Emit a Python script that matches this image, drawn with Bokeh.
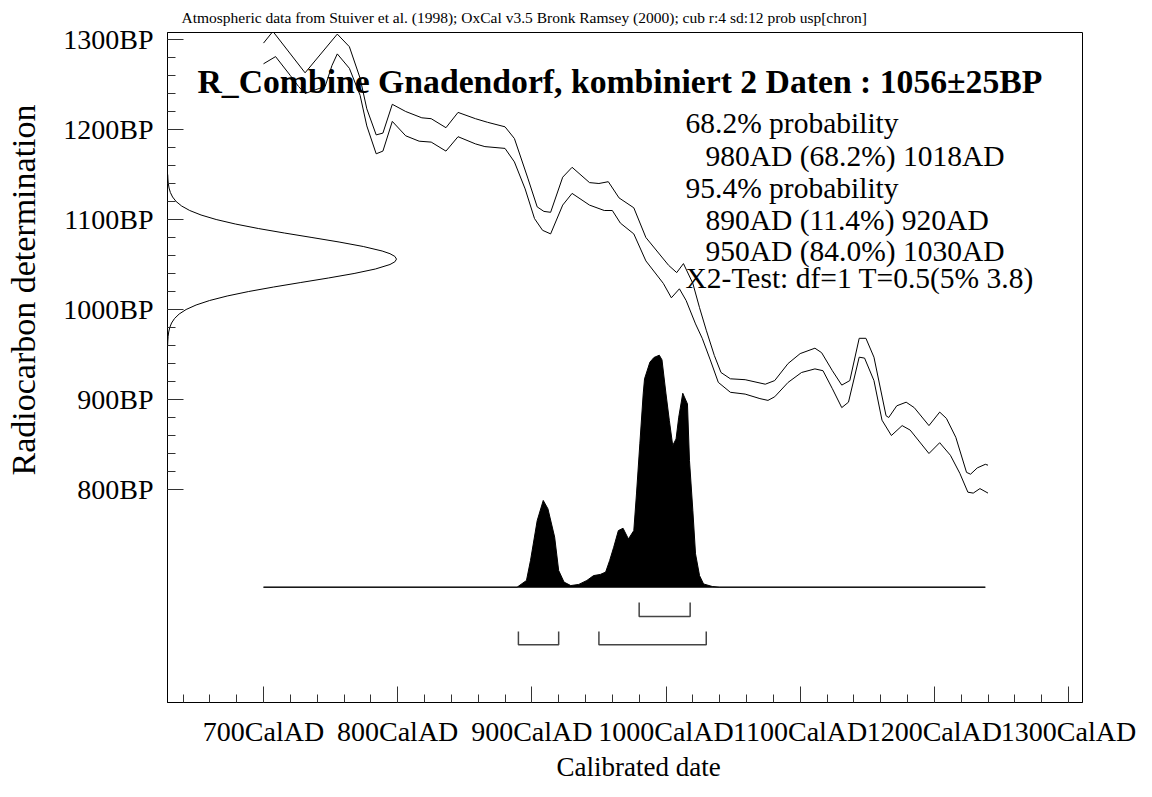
from bokeh.plotting import figure
from bokeh.models import Range1d, FixedTicker, Label, Title
from bokeh.embed import file_html
from bokeh.resources import INLINE

# ---------------- data ----------------
# calibration curve, upper (+1 sigma) and lower (-1 sigma) lines
cal_upper_ad = [700, 707, 731, 755, 764, 772, 777, 784, 789, 796, 806, 818, 825, 836, 845, 858,
                867, 880, 887, 897, 904, 909, 914, 923, 930, 943, 950, 957, 965, 976, 985,
                1002, 1008, 1013, 1020, 1025, 1030, 1036, 1041, 1048, 1059, 1074, 1081, 1091,
                1100, 1111, 1116, 1124, 1131, 1137, 1144, 1149, 1155, 1164, 1166, 1172, 1179,
                1185, 1196, 1204, 1209, 1216, 1224, 1227, 1232, 1238, 1240]
cal_upper_bp = [1296, 1309, 1263, 1306, 1292, 1257, 1223, 1194, 1196, 1228, 1220, 1213, 1212, 1202,
                1219, 1212, 1208, 1203, 1190, 1146, 1114, 1109, 1108, 1147, 1158, 1141, 1140,
                1142, 1124, 1113, 1080, 1049, 1041, 1051, 1029, 1002, 977, 949, 930, 923, 922,
                917, 921, 940, 951, 957, 952, 932, 916, 921, 968, 968, 947, 882, 880, 893, 897,
                891, 871, 886, 879, 858, 819, 817, 824, 828, 827]
cal_lower_ad = [700, 709, 720, 726, 731, 746, 751, 755, 764, 772, 777, 784, 789, 796, 806, 816,
                825, 836, 845, 858, 865, 880, 887, 895, 902, 908, 914, 923, 930, 943, 954, 960,
                966, 976, 985, 998, 1004, 1010, 1015, 1022, 1027, 1033, 1039, 1048, 1059, 1070,
                1076, 1081, 1091, 1101, 1111, 1117, 1124, 1131, 1136, 1144, 1148, 1155, 1161,
                1168, 1176, 1182, 1196, 1204, 1212, 1219, 1225, 1229, 1234, 1240]
cal_lower_bp = [1273, 1281, 1260, 1248, 1240, 1248, 1271, 1284, 1268, 1238, 1204, 1173, 1176, 1209,
                1193, 1187, 1186, 1176, 1192, 1184, 1181, 1179, 1164, 1134, 1101, 1088, 1084,
                1116, 1129, 1116, 1110, 1110, 1096, 1084, 1054, 1029, 1013, 1023, 1010, 984,
                968, 944, 919, 908, 906, 901, 899, 903, 919, 930, 934, 932, 912, 891, 897, 947,
                946, 921, 877, 860, 871, 866, 840, 852, 838, 818, 797, 796, 801, 796]

# radiocarbon date 1056 +/- 25 BP (relative likelihood)
c14_bp = [960, 965, 970, 975, 980, 985, 990, 995, 1000, 1005, 1010, 1015, 1020, 1025, 1030,
          1035, 1040, 1045, 1050, 1053, 1056, 1059, 1062, 1065, 1070, 1075, 1080, 1085, 1090,
          1095, 1100, 1105, 1110, 1115, 1120, 1125, 1130, 1135, 1140, 1145, 1150]
c14_prob = [0.0006, 0.0013, 0.0027, 0.0052, 0.0099, 0.0177, 0.0307, 0.051, 0.0813, 0.1248,
            0.184, 0.2606, 0.3546, 0.4635, 0.5821, 0.7027, 0.8148, 0.9078, 0.9716, 0.9928, 1.0,
            0.9928, 0.9716, 0.9373, 0.8549, 0.7492, 0.6308, 0.5103, 0.3966, 0.2962, 0.2125,
            0.1465, 0.097, 0.0617, 0.0377, 0.0222, 0.0125, 0.0068, 0.0035, 0.0018, 0.0009]

# calibrated (posterior) distribution, relative probability
cal_ad = [700, 889, 896, 899, 904, 908.5, 912, 917, 920, 924, 929, 935, 941, 946, 951, 955, 958,
          961, 964.5, 968, 972, 976, 978, 980.5, 983, 984, 988, 991, 995, 997, 1000, 1002.5,
          1005, 1007.5, 1009.5, 1012.5, 1016, 1017.5, 1020, 1022, 1025, 1028, 1034.5, 1040, 1238]
cal_prob = [0, 0, 0.029, 0.115, 0.287, 0.374, 0.338, 0.216, 0.072, 0.022, 0.007, 0.012, 0.029,
            0.050, 0.055, 0.065, 0.115, 0.172, 0.244, 0.254, 0.208, 0.244, 0.402, 0.618, 0.833,
            0.898, 0.97, 0.99, 1.0, 0.98, 0.833, 0.718, 0.611, 0.639, 0.733, 0.836, 0.790, 0.546,
            0.331, 0.144, 0.050, 0.014, 0.003, 0, 0]

# highest probability ranges
range68 = [(980, 1018)]
range95 = [(890, 920), (950, 1030)]

x_ticks = [700, 800, 900, 1000, 1100, 1200, 1300]
x_tick_labels = ["700CalAD", "800CalAD", "900CalAD", "1000CalAD", "1100CalAD", "1200CalAD", "1300CalAD"]
y_ticks = [800, 900, 1000, 1100, 1200, 1300]
y_tick_labels = ["800BP", "900BP", "1000BP", "1100BP", "1200BP", "1300BP"]

header = "Atmospheric data from Stuiver et al. (1998); OxCal v3.5 Bronk Ramsey (2000); cub r:4 sd:12 prob usp[chron]"
title = "R_Combine Gnadendorf, kombiniert 2 Daten : 1056\u00b125BP"
stats_lines = ["68.2% probability", "980AD (68.2%) 1018AD", "95.4% probability",
               "890AD (11.4%) 920AD", "950AD (84.0%) 1030AD", "X2-Test: df=1 T=0.5(5% 3.8)"]
stats_indent = [False, True, False, True, True, False]
x_label = "Calibrated date"
y_label = "Radiocarbon determination"

# ---------------- layout helpers (pixel -> data) ----------------
W, H = 1136, 781
LEFT, RIGHT, TOP, BOTTOM = 167, 1082, 32, 702
X700, SX = 263, 805 / 600.0          # px of 700 AD, px per year
Y1300, SY = 39, 0.9                   # px of 1300 BP, px per BP year


def dx(px):
    return 700 + (px - X700) / SX


def dy(py):
    return 1300 - (py - Y1300) / SY


FONT = "Liberation Serif"
p = figure(width=W, height=H, output_backend="svg", toolbar_location=None,
           x_range=Range1d(dx(LEFT), dx(RIGHT)), y_range=Range1d(dy(BOTTOM), dy(TOP)),
           min_border_left=LEFT, min_border_right=W - RIGHT, min_border_top=TOP,
           min_border_bottom=H - BOTTOM, title=header,
           background_fill_color="white", border_fill_color="white")
# radiocarbon likelihood drawn sideways from the BP axis; distribution above its baseline
p.extra_x_ranges = {"gauss": Range1d(0, (RIGHT - LEFT) / (396 - LEFT))}
BASE, PEAK = 586.7, 354.7
p.extra_y_ranges = {"prob": Range1d(-(BOTTOM - BASE) / (BASE - PEAK), (BASE - TOP) / (BASE - PEAK))}
p.grid.visible = False
p.outline_line_color = "black"
p.outline_line_width = 1

p.title.align = "left"
p.title.offset = 181 - LEFT
p.title.text_font = FONT
p.title.text_font_size = "15.5px"
p.title.text_font_style = "normal"
p.title.text_color = "black"
p.title.standoff = 13

p.xaxis.ticker = FixedTicker(ticks=x_ticks, minor_ticks=list(range(640, 1301, 20)))
p.xaxis.major_label_overrides = dict(zip(x_ticks, x_tick_labels))
p.yaxis.ticker = FixedTicker(ticks=y_ticks, minor_ticks=list(range(800, 1301, 20)))
p.yaxis.major_label_overrides = dict(zip(y_ticks, y_tick_labels))
for ax in (p.xaxis[0], p.yaxis[0]):
    ax.major_tick_in = 16
    ax.major_tick_out = 0
    ax.minor_tick_in = 8
    ax.minor_tick_out = 0
    ax.axis_line_color = "black"
    ax.major_tick_line_color = "#333333"
    ax.minor_tick_line_color = "#333333"
    ax.major_label_text_font = FONT
    ax.major_label_text_font_size = "28px"
    ax.major_label_text_color = "black"
p.yaxis.major_label_standoff = 14
p.xaxis.major_label_standoff = 13

# axis titles (as side titles so they can be placed along the axis)
p.add_layout(Title(text=" ", text_font_size="12px", standoff=3), "left")
p.add_layout(Title(text=y_label, text_font=FONT, text_font_size="34px", text_font_style="normal",
                   text_color="black", align="left", offset=BOTTOM - 475, standoff=0), "left")
p.add_layout(Title(text=x_label, text_font=FONT, text_font_size="27px", text_font_style="normal",
                   text_color="black", align="left", offset=642 - 86 - LEFT, standoff=0), "below")

# calibration curve
p.line(cal_upper_ad, cal_upper_bp, line_color="black", line_width=1)
p.line(cal_lower_ad, cal_lower_bp, line_color="black", line_width=1)

# radiocarbon date on the BP axis
p.line(c14_prob, c14_bp, x_range_name="gauss", line_color="black", line_width=1)

# calibrated distribution
p.patch(cal_ad, cal_prob, y_range_name="prob", fill_color="black", line_color="black", line_width=1)

# range brackets
def bracket(ranges, low, top):
    for s, e in ranges:
        p.line([s, s, e, e], [top, low, low, top], y_range_name="prob",
               line_color="#444444", line_width=1.5)

bracket(range68, -(616 - BASE) / (BASE - PEAK), -(602 - BASE) / (BASE - PEAK))
bracket(range95, -(644.3 - BASE) / (BASE - PEAK), -(631 - BASE) / (BASE - PEAK))

# texts inside the plot
p.add_layout(Label(x=dx(197), y=dy(80.5), text=title, text_font=FONT, text_font_size="33.7px",
                   text_font_style="bold", text_baseline="alphabetic", text_color="black"))
stat_base = [122, 155, 187, 219, 250, 277]
for line, ind, yb in zip(stats_lines, stats_indent, stat_base):
    p.add_layout(Label(x=dx(705 if ind else 685), y=dy(yb), text=line, text_font=FONT,
                       text_font_size="29.5px", text_baseline="alphabetic", text_color="black"))

open("out.html", "w").write(file_html(p, INLINE))
